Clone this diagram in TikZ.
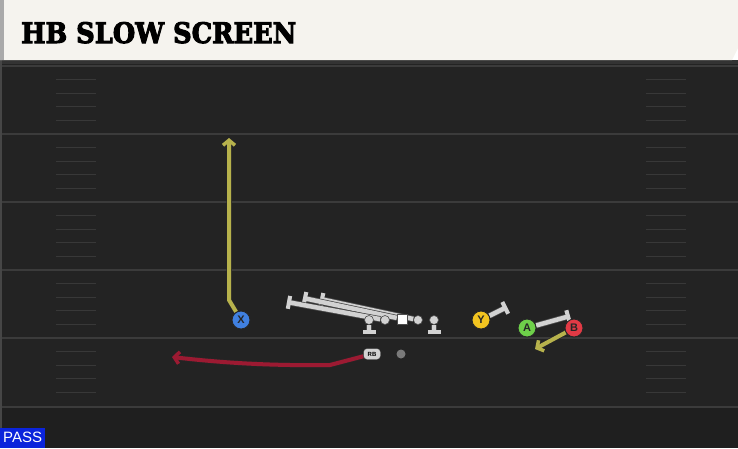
\documentclass[tikz,border=0pt]{standalone}
\usepackage{fontspec}
\usepackage{graphicx}
\usetikzlibrary{arrows.meta,calc,positioning}
\setsansfont{Liberation Sans}
\newfontfamily\titlefont[FakeBold=3.5]{DejaVu Serif}

\definecolor{fieldgray}{HTML}{232323}
\definecolor{fielddark}{HTML}{1F1F1F}
\definecolor{yardgray}{HTML}{3B3B3B}
\definecolor{hashgray}{HTML}{383838}
\definecolor{edgegray}{HTML}{464646}
\definecolor{titlecream}{HTML}{F5F3EE}
\definecolor{stripgray}{HTML}{A9A9A9}
\definecolor{routeolive}{HTML}{B7B24C}
\definecolor{routered}{HTML}{9C1A32}
\definecolor{olgray}{HTML}{D2D2D2}
\definecolor{dotgray}{HTML}{7A7A7A}
\definecolor{xblue}{HTML}{4080E0}
\definecolor{yyellow}{HTML}{F2C420}
\definecolor{agreen}{HTML}{6ED04A}
\definecolor{bred}{HTML}{E23A45}
\definecolor{passblue}{HTML}{0B24DB}

\pgfdeclarelayer{field}
\pgfdeclarelayer{paths}
\pgfsetlayers{field,paths,main}

\tikzset{
  player/.style={circle,draw=black!85,line width=0.9pt,minimum size=18pt,inner sep=0pt,
    text=black!85,font=\sffamily\bfseries\fontsize{11}{11}\selectfont},
  lineman/.style={circle,fill=olgray,draw=black!70,line width=0.6pt,minimum size=9pt,inner sep=0pt},
  route/.style={line width=4pt,line join=round,
    -{Straight Barb[length=5pt,width=12pt,line width=3.5pt]},
    preaction={draw=black!85,line width=5.5pt}},
  block/.style={draw=olgray,line width=4.5pt,-{Bar[width=13pt,line width=4pt]},
    preaction={draw=black!70,line width=6pt}},
  yardline/.style={draw=yardgray,line width=1.2pt},
  hashline/.style={draw=hashgray,line width=1pt},
  rbbox/.style={draw=black!80,fill=olgray,rounded corners=3.5pt,minimum width=17pt,
    minimum height=11pt,inner sep=0pt,font=\sffamily\bfseries\fontsize{6}{6}\selectfont}
}

\begin{document}
\begin{tikzpicture}[x=1pt,y=-1pt]
       \useasboundingbox (0,0) rectangle (738,448);

       \begin{pgfonlayer}{field}
       \fill[fieldgray] (0,60) rectangle (738,448);
       \fill[fielddark] (0,408) rectangle (738,448);
       \fill[black!80] (0,60) rectangle (738,64);
       \foreach \yl in {66,134,202,270,338,407}
         \draw[yardline] (0,\yl) -- (738,\yl);
       \foreach \yl in {66,134,202,270,338}
         \foreach \k in {1,...,4}{
           \draw[hashline] (56,{\yl+13.6*\k}) -- (96,{\yl+13.6*\k});
           \draw[hashline] (646,{\yl+13.6*\k}) -- (686,{\yl+13.6*\k});
         }
       \draw[edgegray,line width=2pt] (1,60) -- (1,448);

       \fill[titlecream] (0,0) -- (738,0) -- (738,48) -- (732,60) -- (0,60) -- cycle;
       \fill[stripgray] (0,0) rectangle (4,60);
       \end{pgfonlayer}

       \node[anchor=base west,inner sep=0pt] (title) at (21,43)
       {\resizebox{275pt}{21pt}{\titlefont\bfseries HB SLOW SCREEN}};

       \node[player,fill=xblue]  (X) at (241,320) {X};
       \node[player,fill=yyellow] (Y) at (481,320) {Y};
       \node[player,fill=agreen] (A) at (527,328) {A};
       \node[player,fill=bred]   (B) at (574,328) {B};

       \node[lineman] (LT) at (369,320) {};
       \node[lineman] (LG) at (385,320) {};
       \node[fill=white,draw=black!70,minimum size=10pt,inner sep=0pt] (C) at (402,319) {};
       \node[lineman] (RG) at (418,320) {};
       \node[lineman] (RT) at (434,320) {};

       \node[rbbox] (RB) at (372,354) {RB};
       \node[circle,fill=dotgray,minimum size=9pt,inner sep=0pt] (QB) at (401,354) {};

       \node[fill=passblue,text=white,anchor=south west,inner sep=0pt,minimum width=45pt,
         minimum height=20pt,font=\sffamily\fontsize{15}{15}\selectfont] (pass) at (0,448) {PASS};

       \coordinate (XK)  at (229,300);
       \coordinate (XE)  at (229,138);
       \coordinate (RK)  at (330,365);
       \coordinate (RE)  at (172,357);
       \coordinate (BE)  at (535,349);
       \coordinate (YE)  at (507,307);
       \coordinate (AE)  at (570,316);
       \coordinate (LTE) at (369,334);
       \coordinate (LGE) at (287,302);
       \coordinate (CE)  at (303,298);
       \coordinate (RGE) at (320,299);
       \coordinate (RTE) at (434,334);

       \begin{pgfonlayer}{paths}
       \draw[route,routeolive] (X) -- (XK) -- (XE);
       \draw[route,routered] (RB) -- (RK) .. controls (265,366) and (215,362) .. (RE);
       \draw[route,routeolive] (B) -- (BE);

       \draw[block] (Y) -- (YE);
       \draw[block] (A) -- (AE);
       \draw[block] (LT) -- (LTE);
       \draw[block] (RT) -- (RTE);
       \draw[block] (RG) -- (RGE);
       \draw[block] (C) -- (CE);
       \draw[block] (LG) -- (LGE);
       \end{pgfonlayer}
     \end{tikzpicture}
\end{document}
